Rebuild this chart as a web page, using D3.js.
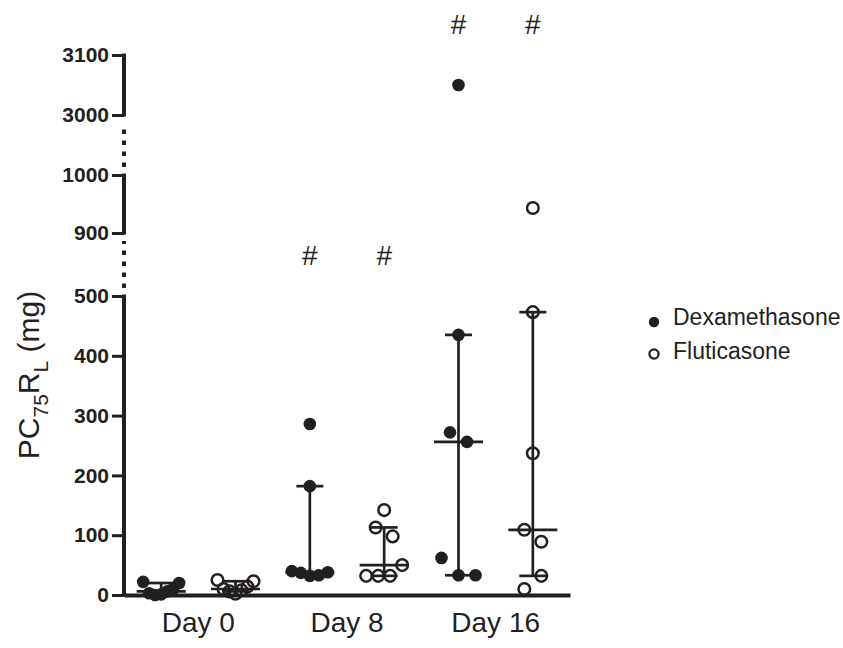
<!DOCTYPE html>
<html lang="en">
<head>
  <meta charset="UTF-8">
  <title>PC75RL by day</title>
  <script src="https://d3js.org/d3.v7.min.js"></script>
  <style>
    body { margin: 0; background: #fff; }
    text { font-family: "Liberation Sans", Arial, sans-serif; fill: #231f20; }
  </style>
</head>
<body>
  <div id="chart"></div>

  <script>
    // values, in the left-to-right order the dots sit in
    const days = ["Day 0", "Day 8", "Day 16"];
    const drugs = ["Dexamethasone", "Fluticasone"];
    const dexamethasone = [
      [22, 3, 0, 1, 6, 10, 20],
      [286, 182, 40, 37, 32, 33, 38],
      [3050, 435, 272, 256, 62, 33, 33]
    ];
    const fluticasone = [
      [25, 10, 6, 2, 8, 14, 23],
      [142, 113, 98, 32, 32, 32, 50],
      [943, 473, 237, 109, 89, 10, 32]
    ];
    const yTicks = [0, 100, 200, 300, 400, 500, 900, 1000, 3000, 3100];
    const yPieces = [[0, 500], [900, 1000], [3000, 3100]];
    const hashMarks = [
      { day: "Day 8", drug: "Dexamethasone", at: 760 },
      { day: "Day 8", drug: "Fluticasone", at: 760 },
      { day: "Day 16", drug: "Dexamethasone", at: 3152 },
      { day: "Day 16", drug: "Fluticasone", at: 3152 }
    ];

    const ink = "#231f20";
    const width = 843, height = 648;

    const svg = d3.select("#chart")
      .append("svg")
      .attr("width", width)
      .attr("height", height);

    const x0 = d3.scaleBand().domain(days).range([124, 570]);
    const x1 = d3.scalePoint().domain(drugs).range([0, x0.bandwidth()]).padding(0.5);
    const colX = (day, drug) => x0(day) + x1(drug);

    // broken axis: one polylinear scale, each piece gets its own stretch
    const y = d3.scaleLinear()
      .domain([0, 500, 900, 1000, 3000, 3100])
      .range([595, 296, 233, 175, 115, 55]);

    // y axis
    const yAxis = svg.append("g")
      .attr("transform", "translate(124,0)")
      .call(d3.axisLeft(y).tickValues(yTicks).tickSize(12).tickPadding(3).tickFormat(d3.format("d")));
    yAxis.select(".domain").remove();
    yAxis.selectAll(".tick line").attr("stroke", ink).attr("stroke-width", 3);
    yAxis.selectAll(".tick text")
      .attr("fill", ink)
      .style("font-size", "21px")
      .style("font-weight", "bold");

    yPieces.forEach((p, i) => {
      yAxis.append("line")
        .attr("x1", 0).attr("x2", 0)
        .attr("y1", y(p[0]) + 1.5).attr("y2", y(p[1]) - 1.5)
        .attr("stroke", ink).attr("stroke-width", 4);
      if (i < yPieces.length - 1) {
        yAxis.append("line")
          .attr("x1", 0).attr("x2", 0)
          .attr("y1", y(p[1]) - 8).attr("y2", y(yPieces[i + 1][0]) + 8)
          .attr("stroke", ink).attr("stroke-width", 4)
          .attr("stroke-dasharray", "4.5,6.5");
      }
    });

    // x axis
    const xAxis = svg.append("g")
      .attr("transform", "translate(0,595)")
      .call(d3.axisBottom(x0).tickSize(0).tickSizeOuter(0).tickPadding(17));
    xAxis.select(".domain").attr("stroke", ink).attr("stroke-width", 4);
    xAxis.selectAll(".tick text")
      .attr("fill", ink)
      .style("font-size", "28px");

    // points, spread sideways when they share a bin (like the prism scatter)
    const series = [
      { drug: "Dexamethasone", values: dexamethasone, filled: true },
      { drug: "Fluticasone", values: fluticasone, filled: false }
    ];

    const points = [];
    const summaries = [];
    series.forEach(s => {
      s.values.forEach((vals, di) => {
        const day = days[di];
        const cx = colX(day, s.drug);
        const bins = d3.group(vals.map((v, i) => ({ v, i })), d => Math.floor((y(0) - y(d.v)) / 41.5));
        bins.forEach(members => {
          const n = members.length;
          const gap = n > 1 ? Math.min(17, 36 / (n - 1)) : 0;
          members.forEach((m, k) => {
            points.push({ x: cx + (k - (n - 1) / 2) * gap, y: y(m.v), filled: s.filled });
          });
        });

        const sorted = vals.slice().sort((a, b) => a - b);
        const q = p => {
          let pos = (sorted.length + 1) * p;
          pos = Math.max(1, Math.min(sorted.length, pos));
          const lo = Math.floor(pos), f = pos - lo;
          return lo >= sorted.length ? sorted[lo - 1] : sorted[lo - 1] + f * (sorted[lo] - sorted[lo - 1]);
        };
        summaries.push({ cx, q1: q(0.25), med: q(0.5), q3: q(0.75) });
      });
    });

    svg.append("g").selectAll("circle")
      .data(points)
      .join("circle")
      .attr("cx", d => d.x)
      .attr("cy", d => d.y)
      .attr("r", d => d.filled ? 6.3 : 5.8)
      .attr("fill", d => d.filled ? ink : "none")
      .attr("stroke", d => d.filled ? "none" : ink)
      .attr("stroke-width", 2.5);

    // median with interquartile range
    const bars = svg.append("g").attr("stroke", ink).attr("stroke-width", 2.7);
    summaries.forEach(d => {
      bars.append("line")
        .attr("x1", d.cx).attr("x2", d.cx)
        .attr("y1", y(d.q1)).attr("y2", y(d.q3));
      bars.append("line")
        .attr("x1", d.cx - 24.5).attr("x2", d.cx + 24.5)
        .attr("y1", y(d.med)).attr("y2", y(d.med));
      [d.q1, d.q3].forEach(v => {
        bars.append("line")
          .attr("x1", d.cx - 13.5).attr("x2", d.cx + 13.5)
          .attr("y1", y(v)).attr("y2", y(v));
      });
    });

    // significance marks
    svg.append("g").selectAll("text")
      .data(hashMarks)
      .join("text")
      .attr("x", d => colX(d.day, d.drug))
      .attr("y", d => y(d.at))
      .attr("dy", "0.35em")
      .attr("text-anchor", "middle")
      .style("font-size", "28px")
      .text("#");

    // y label with subscripts
    const yLabel = svg.append("text")
      .attr("transform", "translate(39,375) rotate(-90)")
      .attr("text-anchor", "middle")
      .style("font-size", "30px");
    yLabel.append("tspan").text("PC");
    yLabel.append("tspan").attr("dy", 9).style("font-size", "21px").text("75");
    yLabel.append("tspan").attr("dy", -9).text("R");
    yLabel.append("tspan").attr("dy", 9).style("font-size", "21px").text("L");
    yLabel.append("tspan").attr("dy", -9).text("\u00a0(mg)");

    // legend
    const legend = svg.append("g").attr("transform", "translate(654,0)");
    series.forEach((s, i) => {
      const cy = 322 + i * 32;
      legend.append("circle")
        .attr("cx", 0).attr("cy", cy)
        .attr("r", s.filled ? 5.2 : 4.6)
        .attr("fill", s.filled ? ink : "none")
        .attr("stroke", s.filled ? "none" : ink)
        .attr("stroke-width", 2.2);
      legend.append("text")
        .attr("x", 19)
        .attr("y", cy + 3 + i * 2)
        .style("font-size", "23px")
        .text(s.drug);
    });
  </script>
</body>
</html>
